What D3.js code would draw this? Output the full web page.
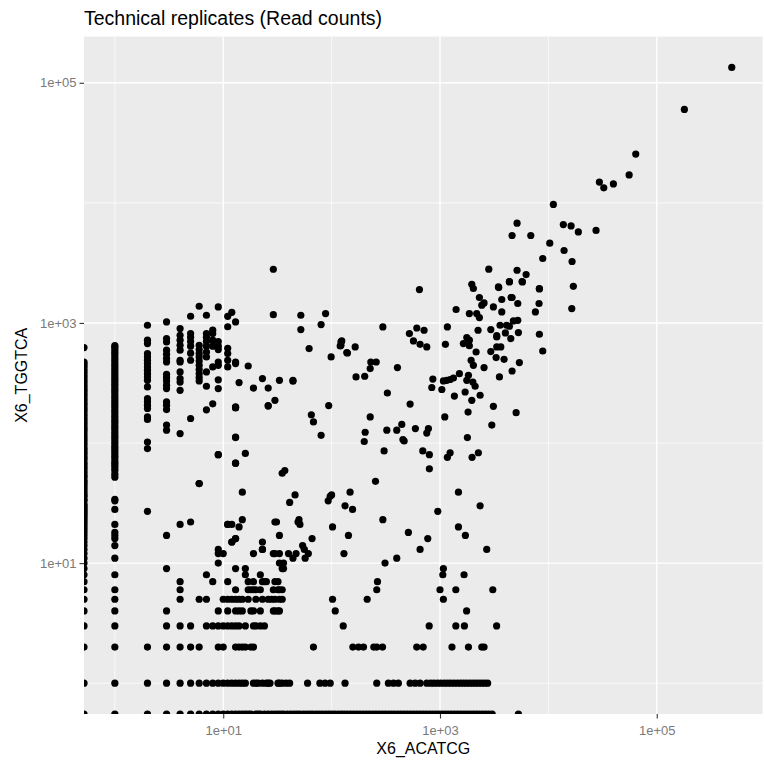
<!DOCTYPE html>
<html>
<head>
<meta charset="utf-8">
<script src="https://cdn.jsdelivr.net/npm/d3@7"></script>
<style>
body { margin: 0; background: #fff; }
text { font-family: "Liberation Sans", Arial, sans-serif; }
</style>
</head>
<body>
<div id="container"></div>
<script>
// read counts, X6_ACATCG (x) against X6_TGGTCA (y); zero counts sit on the panel edge
var colX0 = [0, 1, 2, 3, 4, 5, 6, 7, 8, 9, 10, 11, 12, 13, 14, 15, 16, 17, 18, 19, 20, 21, 22, 23, 24, 25, 26, 27, 28, 29, 30, 31, 33, 34, 36, 37, 39, 41, 43, 45, 47, 49, 52, 54, 57, 60, 63, 66, 69, 73, 76, 80, 84, 88, 92, 97, 102, 107, 112, 118, 124, 130, 136, 143, 150, 157, 165, 173, 182, 191, 200, 210, 220, 231, 243, 255, 268, 281, 295, 310, 325, 341, 358, 376, 395, 414, 435, 456, 473, 624];
var colX1 = [0, 1, 2, 3, 4, 5, 6, 8, 11, 14, 16, 17, 18, 21, 28, 33, 34, 52, 55, 59, 62, 65, 68, 71, 75, 78, 82, 86, 90, 94, 99, 104, 109, 114, 120, 126, 132, 138, 145, 152, 159, 167, 175, 184, 193, 202, 212, 222, 233, 244, 256, 268, 281, 295, 309, 324, 340, 356, 373, 391, 410, 430, 451, 473, 496, 520, 545, 571, 599, 628, 648];
var rowY0 = [2, 3, 4, 5, 6, 7, 8, 9, 10, 11, 12, 13, 14, 15, 16, 17, 18, 20, 21, 22, 24, 26, 28, 30, 32, 34, 36, 39, 42, 45, 48, 51, 55, 59, 63, 67, 72, 77, 82, 88, 94, 100, 107, 115, 123, 131, 140, 150, 160, 171, 183, 196, 210, 224, 240, 256, 274, 293, 313, 335, 358, 383, 410, 438, 468, 500, 535, 572, 611, 653, 698, 746, 798, 853, 912, 975, 1042, 1114, 1190, 1272, 1360, 1454, 1554, 1661, 1775, 1897, 2028, 2167, 2316, 2476, 2646, 2830, 3030, 5290];
var rowY1 = [2, 3, 4, 5, 6, 7, 8, 9, 10, 11, 12, 13, 14, 15, 16, 19, 20, 21, 23, 25, 26, 27, 32, 33, 35, 38, 41, 60, 78, 87, 97, 133, 261, 334, 372, 413, 530, 590, 655, 755, 820, 880, 950, 1020, 1100, 1180, 1260, 1350, 1450, 1550, 1650, 1760, 1880, 2000, 2130, 2270, 2420, 2580, 2750];
var lowPairs = [
  [2,957],[2,718],[2,673],[2,556],[2,521],[2,489],[2,459],[2,430],[2,404],[2,378],[2,355],[2,333],[2,293],[2,234],[2,220],[2,206],[2,194],[2,165],[2,157],[2,102],[2,90],[2,27],[2,2],
  [3,1019],[3,741],[3,695],[3,593],[3,548],[3,505],[3,473],[3,374],[3,351],[3,329],[3,303],[3,284],[3,220],[3,206],[3,190],[3,141],[3,128],[3,17],[3,9],[3,4],[3,3],[3,2],
  [4,898],[4,790],[4,718],[4,652],[4,593],[4,489],[4,473],[4,391],[4,344],[4,322],[4,275],[4,120],[4,21],[4,7],[4,6],[4,5],[4,3],[4,2],
  [5,1137],[5,816],[5,760],[5,700],[5,640],[5,560],[5,489],[5,160],[5,22],[5,3],[5,2],
  [6,1377],[6,652],[6,600],[6,556],[6,521],[6,482],[6,444],[6,409],[6,378],[6,351],[6,329],[6,46],[6,5],[6,2],
  [7,1159],[7,816],[7,760],[7,700],[7,640],[7,573],[7,521],[7,391],[7,297],[7,189],[7,8],[7,5],[7,3],
  [8,870],[8,816],[8,718],[8,640],[8,430],[8,212],[8,7],[8,3],
  [9,1360],[9,700],[9,640],[9,600],[9,473],[9,444],[9,336],[9,284],[9,80],[9,13],[9,12],[9,10],[9,4],[9,3],[9,2],
  [10,12],[10,5],[10,3],[10,2],
  [11,1136],[11,930],[11,615],[11,556],[11,489],[11,430],[11,21],[11,7],[11,5],[11,4],[11,3],
  [12,1225],[12,21],[12,15],[12,5],[12,3],
  [13,1019],[13,473],[13,459],[13,200],[13,196],[13,112],[13,68],[13,16],[13,9],[13,6],[13,5],[13,4],[13,3],[13,2],
  [14,2],[15,2],[16,2],[18,2],[19,2],[68,2],[157,2],[177,2],[197,2],[245,2],[261,2],[295,2],[610,2],[700,2],[1290,2],[1830,2],[2430,2],[2550,2],
  [14,3],[16,3],[19,3],[20,3],[22,3],[24,3],[128,3],[795,3],[1400,3],[1680,3],[3330,3],
  [14,4],[15,4],[18,4],[19,4],[22,4],[29,4],[30,4],[32,4],[33,4],[108,4],[1760,4],
  [14,5],[15,5],[17,5],[20,5],[23,5],[26,5],[28,5],[30,5],[33,5],[35,5],[102,5],[213,5],[1075,5],
  [17,6],[18,6],[19,6],[20,6],[22,6],[29,6],[32,6],[33,6],[35,6],[261,6],[1000,6],[1400,6],[3070,6],
  [17,7],[19,7],[23,7],[24,7],[25,7],[30,7],[32,7],[265,7],
  [16,8],[22,8],[1062,8],[1667,8],
  [16,9],[35,9],[36,9],[1075,9],
  [33,10],[36,10],[311,10],
  [19,12],[23,13],[29,12],[30,12],[33,12],[40,12],[44,11],[47,12],[56,13],[57,11],[61,12],[130,12],[399,11],[655,13],[2700,13]
];
var midPairs = [
  [11,21],[14,20],[15,23],[12,15],[13,16],[23,15],[23,13],[33,17],[30,22],[31,22],[49,22],[50,23],[51,21],
  [54,14],[66,16],[102,20],[143,17],[297,23],[511,18],[771,16],[1480,20],[1715,17],
  [15,39],[41,32],[46,37],[93,33],[100,37],[97,36],[148,39],[133,30],[156,28],[954,27],[1480,39],[2345,30],
  [6,46],[35,56],[37,59],[254,48],[798,61],[13,68],[16,82],[9,80],[305,86],[694,86],[798,80],[1170,76],[1240,83],[1977,76],[2260,83],
  [13,111],[80,116],[204,123],[200,103],[323,128],[399,128],[444,143],[467,104],[455,107],[593,132],[782,132],[755,121],[1790,111],
  [65,172],[68,150],[94,205],[227,165],[530,211],[1107,165],[1816,181],[3006,141],[3110,202],[5040,179],
  [13,198],[26,205],[30,227],[26,203],[19,287],[26,287],[14,319],[23,344],[33,333],[44,327],[44,333],[17,438],
  [327,261],[1965,227],[2345,250],[1358,246],[1706,266],[840,290],[1040,279],[2110,297],
  [168,355],[202,360],[227,417],[230,473],[258,473],[405,425],[99,521],[140,562],[138,567],[62,612],[165,631],[120,643],[122,652],[122,695],[124,708],
  [1510,378],[1330,348],[1156,333],[1240,338],[1075,329],[859,341],[1830,366],[1767,333],[2010,322],[3535,355],[4625,398],
  [1937,489],[2033,444],[2550,425],[3295,515],[3900,498],[5400,468],[2153,573],[2943,578],[3340,631],[3640,631],[8870,584],
  [522,816],[569,708],[611,908],[655,664],[713,869],[755,631],[1122,664],[1170,926],[297,926],[80,970],[52,881],[52,1159],[88,1197],[29,1172],
  [1767,755],[1866,718],[1644,673],[1866,646],[2245,869],[2943,881],[3583,957],[4370,939],[4010,826],[3340,764],[3340,783],[4500,741],[5290,832],[8260,805],
  [4755,1040],[5220,1052],[4115,957],[1408,1294],[1866,1197],[2182,1197],[2310,1109],[3110,1360],[3715,1236],[7590,1236],
  [2310,1629],[2430,1406],[2550,1468],[3715,1567],[4625,1629],[4530,1629],[5220,1452],[8200,1452],[16440,1318],
  [646,1897],[1965,2100],[2033,1935],[3459,1995],[4370,2197],[5760,2197],[8260,1935],[8260,1920],[17000,2020],[3485,1972],[29,2800]
];
var highPairs = [
  [2820,2805],[5140,2748],[6230,2530],[5720,2213],[4370,2213],[16550,3250],[8870,3440],[13960,4010],[10300,4615],
  [4625,5350],[6880,5350],[5140,6770],[13740,6600],[16200,6430],[18900,5730],[27540,5890],[11120,9700],
  [29550,14890],[32450,13340],[39800,14390],[55600,17100],[64000,25460],[179800,60000],[492000,134300]
];

var majorBreaks = [10, 1000, 100000];
var minorBreaks = [1, 100, 10000];

var width = 764, height = 762;
var panel = { left: 84, right: 762.6, top: 36.6, bottom: 714 };

var points = [];
colX0.forEach(function (v) { points.push([0, v]); });
colX1.forEach(function (v) { points.push([1, v]); });
rowY0.forEach(function (v) { points.push([v, 0]); });
rowY1.forEach(function (v) { points.push([v, 1]); });
lowPairs.concat(midPairs, highPairs).forEach(function (d) { points.push(d); });

// ggplot style: 5% expansion of the finite log range
var logExtent = function (vals) {
    var pos = vals.filter(function (v) { return v > 0; });
    var lo = Math.log10(d3.min(pos)), hi = Math.log10(d3.max(pos));
    var pad = (hi - lo) * 0.05;
    return [Math.pow(10, lo - pad), Math.pow(10, hi + pad)];
};
var x = d3.scaleLog().domain(logExtent(points.map(function (d) { return d[0]; }))).range([panel.left, panel.right]);
var y = d3.scaleLog().domain(logExtent(points.map(function (d) { return d[1]; }))).range([panel.bottom, panel.top]);
var px = function (v) { return v > 0 ? x(v) : panel.left; };
var py = function (v) { return v > 0 ? y(v) : panel.bottom; };

var svg = d3.select("#container").append("svg").attr("width", width).attr("height", height);

svg.append("defs").append("clipPath").attr("id", "panel-clip")
    .append("rect").attr("x", panel.left).attr("y", panel.top)
    .attr("width", panel.right - panel.left).attr("height", panel.bottom - panel.top);

svg.append("rect").attr("x", panel.left).attr("y", panel.top)
    .attr("width", panel.right - panel.left).attr("height", panel.bottom - panel.top)
    .attr("fill", "#ebebeb");

var grid = svg.append("g").attr("class", "grid");
var drawGrid = function (breaks, w) {
    grid.selectAll(null).data(breaks.filter(function (b) { return x(b) > panel.left && x(b) < panel.right; }))
        .enter().append("line")
        .attr("x1", function (d) { return x(d); }).attr("x2", function (d) { return x(d); })
        .attr("y1", panel.top).attr("y2", panel.bottom)
        .attr("stroke", "#fff").attr("stroke-width", w);
    grid.selectAll(null).data(breaks.filter(function (b) { return y(b) > panel.top && y(b) < panel.bottom; }))
        .enter().append("line")
        .attr("y1", function (d) { return y(d); }).attr("y2", function (d) { return y(d); })
        .attr("x1", panel.left).attr("x2", panel.right)
        .attr("stroke", "#fff").attr("stroke-width", w);
};
drawGrid(minorBreaks, 0.7);
drawGrid(majorBreaks, 1.4);

svg.append("g").attr("clip-path", "url(#panel-clip)")
    .selectAll("circle").data(points).enter().append("circle")
    .attr("cx", function (d) { return px(d[0]); })
    .attr("cy", function (d) { return py(d[1]); })
    .attr("r", 3.6)
    .attr("fill", "#000");

var fmt = function (d) {
    var e = Math.round(Math.log10(d));
    return "1e+" + (e < 10 ? "0" : "") + e;
};

var xAxis = svg.append("g").attr("transform", "translate(0," + panel.bottom + ")")
    .call(d3.axisBottom(x).tickValues(majorBreaks).tickFormat(fmt).tickSize(4.5).tickPadding(7));
var yAxis = svg.append("g").attr("transform", "translate(" + panel.left + ",0)")
    .call(d3.axisLeft(y).tickValues(majorBreaks).tickFormat(fmt).tickSize(4.5).tickPadding(3));
[xAxis, yAxis].forEach(function (a) {
    a.select(".domain").remove();
    a.selectAll(".tick line").attr("stroke", "#333").attr("stroke-width", 1.1);
    a.selectAll(".tick text").attr("fill", "#7a7a7a").style("font-size", "13px")
        .style("font-family", "'Liberation Sans', Arial, sans-serif");
});

svg.append("text").attr("x", panel.left).attr("y", 25)
    .style("font-size", "19.5px").attr("fill", "#000")
    .text("Technical replicates (Read counts)");

svg.append("text").attr("x", (panel.left + panel.right) / 2).attr("y", 754)
    .attr("text-anchor", "middle").style("font-size", "16px").attr("fill", "#000")
    .text("X6_ACATCG");

svg.append("text").attr("transform", "translate(27," + (panel.top + panel.bottom) / 2 + ") rotate(-90)")
    .attr("text-anchor", "middle").style("font-size", "16px").attr("fill", "#000")
    .text("X6_TGGTCA");
</script>
</body>
</html>
